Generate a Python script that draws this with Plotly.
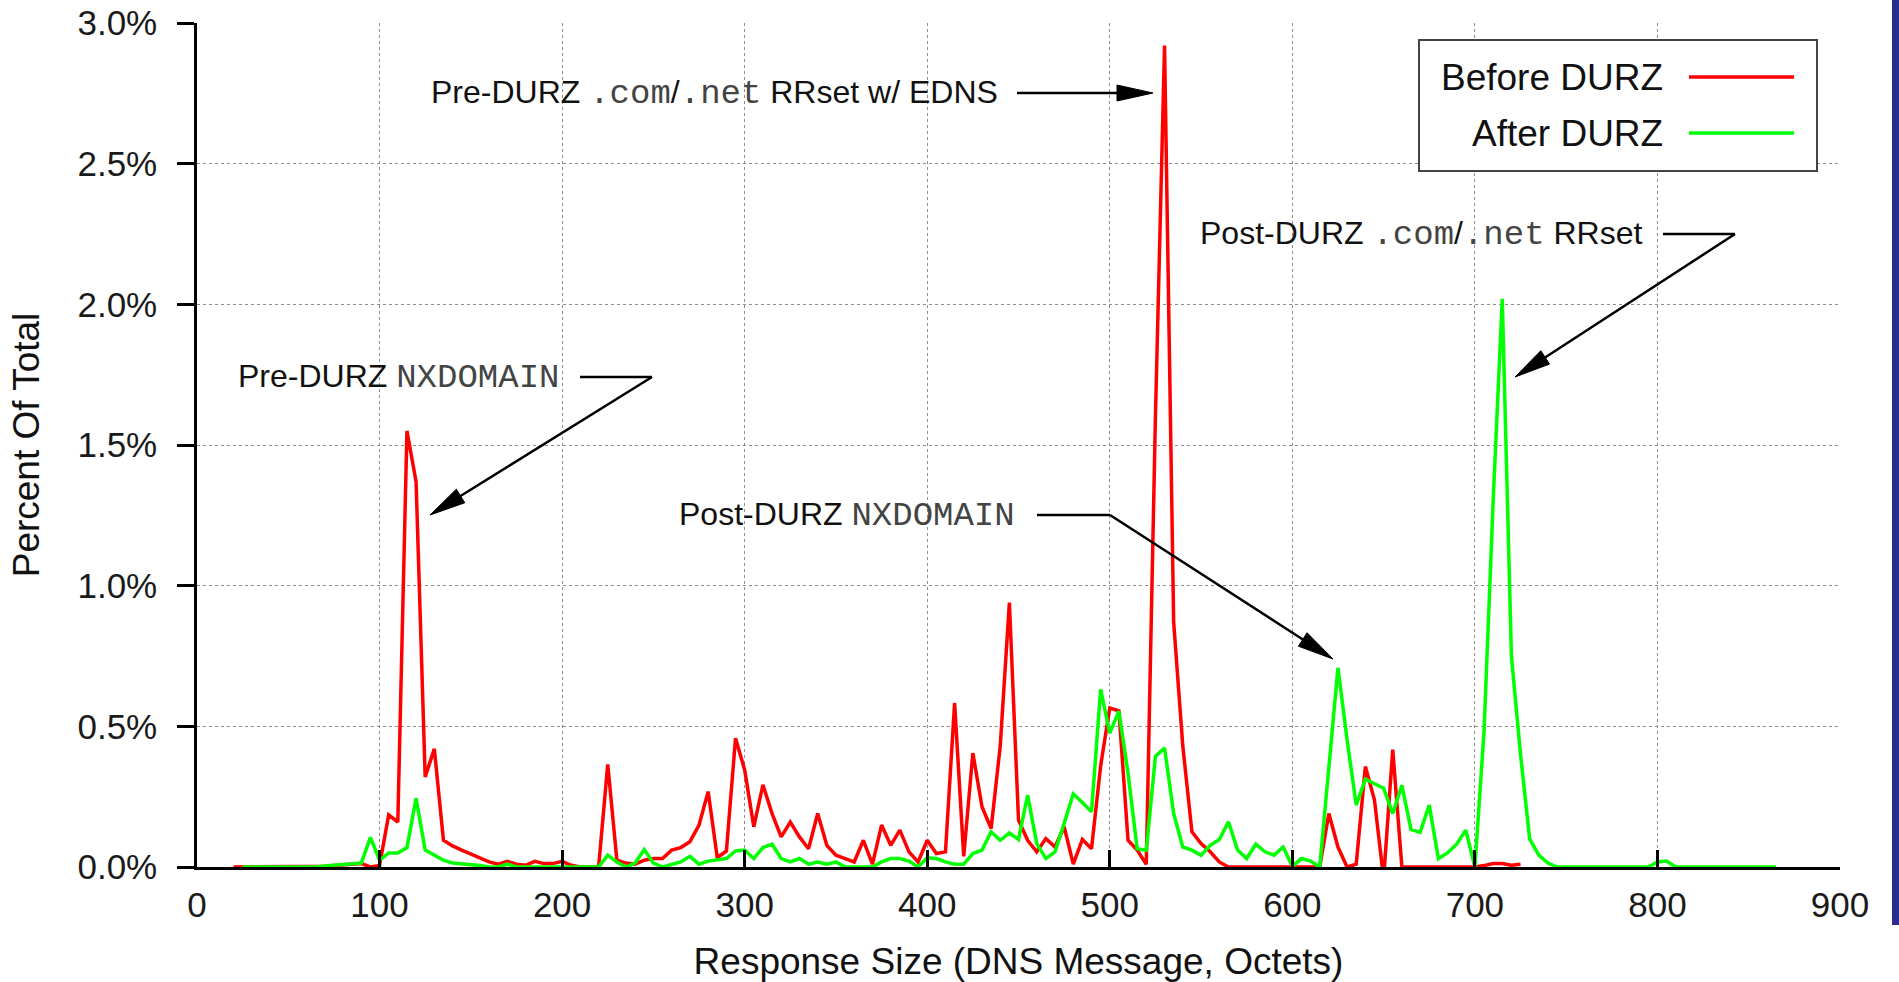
import math
import plotly.graph_objects as go

# ---------------- data ----------------
octets = list(range(20, 870, 5))  # response size bins (octets)

before_durz = [
    0, 0, 0, 0, 0, 0, 0, 0, 0, 0,
    0.003, 0.005, 0.008, 0.01, 0.012, 0.0, 0.005, 0.185, 0.16, 1.55,
    1.37, 0.32, 0.42, 0.095, 0.075, 0.06, 0.045, 0.03, 0.018, 0.01,
    0.02, 0.01, 0.006, 0.02, 0.012, 0.012, 0.02, 0.006, 0, 0,
    0, 0.365, 0.024, 0.014, 0.01, 0.024, 0.03, 0.03, 0.06, 0.069,
    0.09, 0.149, 0.268, 0.033, 0.057, 0.458, 0.345, 0.143, 0.292, 0.19,
    0.107, 0.16, 0.107, 0.065, 0.19, 0.077, 0.042, 0.03, 0.018, 0.095,
    0.01, 0.149, 0.077, 0.131, 0.054, 0.018, 0.095, 0.048, 0.054, 0.583,
    0.038, 0.405, 0.214, 0.137, 0.43, 0.94, 0.167, 0.095, 0.054, 0.101,
    0.071, 0.143, 0.01, 0.098, 0.065, 0.36, 0.565, 0.555, 0.095, 0.06,
    0.01, 1.6, 2.92, 0.87, 0.43, 0.125, 0.083, 0.054, 0.018, 0,
    0, 0, 0, 0, 0, 0, 0, 0, 0, 0,
    0.19, 0.071, 0, 0.01, 0.357, 0.238, -0.042, 0.417, 0, 0,
    0, 0, 0, 0, 0, 0, 0, 0.005, 0.012, 0.012,
    0.006, 0.01, None, None, None, None, None, None, None, None,
    None, None, None, None, None, None, None, None, None, None,
    None, None, None, None, None, None, None, None, None, None,
]

after_durz = [
    None, 0, 0, 0, 0, 0, 0, 0, 0, 0,
    0.004, 0.006, 0.008, 0.01, 0.014, 0.105, 0.024, 0.05, 0.05, 0.069,
    0.244, 0.06, 0.042, 0.024, 0.014, 0.012, 0.01, 0.005, 0, 0,
    0.01, 0, 0, 0, 0, 0, 0, 0, 0, 0,
    0, 0.042, 0.018, 0, 0.014, 0.062, 0.014, 0, 0.01, 0.018,
    0.038, 0.01, 0.021, 0.024, 0.03, 0.057, 0.06, 0.03, 0.069, 0.081,
    0.03, 0.018, 0.03, 0.01, 0.018, 0.01, 0.018, 0, 0, 0,
    0, 0.018, 0.03, 0.03, 0.021, 0, 0.033, 0.03, 0.018, 0.01,
    0.01, 0.048, 0.06, 0.125, 0.095, 0.121, 0.098, 0.256, 0.083, 0.03,
    0.054, 0.155, 0.26, 0.229, 0.196, 0.631, 0.476, 0.554, 0.333, 0.065,
    0.06, 0.393, 0.423, 0.19, 0.071, 0.06, 0.042, 0.077, 0.098, 0.161,
    0.06, 0.03, 0.081, 0.054, 0.042, 0.071, 0.002, 0.03, 0.021, 0,
    0.35, 0.708, 0.452, 0.22, 0.312, 0.295, 0.28, 0.19, 0.29, 0.134,
    0.123, 0.22, 0.03, 0.05, 0.081, 0.131, 0, 0.48, 1.3, 2.02,
    0.75, 0.40, 0.10, 0.042, 0.014, 0, 0, 0, 0, 0,
    0, 0, 0, 0, 0, 0, 0.018, 0.021, 0, 0,
    0, 0, 0, 0, 0, 0, 0, 0, 0, 0,
]

x_ticks = [0, 100, 200, 300, 400, 500, 600, 700, 800, 900]
y_ticks = [0.0, 0.5, 1.0, 1.5, 2.0, 2.5, 3.0]
y_ticktext = ["0.0%", "0.5%", "1.0%", "1.5%", "2.0%", "2.5%", "3.0%"]

# ---------------- geometry ----------------
W, H = 1899, 982
L, R, T, B = 197, 59, 23, 115
PW, PH = W - L - R, H - T - B
XMAX, YMAX = 900, 3.0


def dx(X):
    return (X - L) / PW * XMAX


def dy(Y):
    return (T + PH - Y) / PH * YMAX


SANS = "'Liberation Sans', Arial, Helvetica, sans-serif"
MONO = "'Liberation Mono', 'Courier New', monospace"


def mono(s, size=34):
    return f"<span style=\"font-family:{MONO};font-size:{size}px;color:#444\">{s}</span>"


fig = go.Figure()
fig.add_trace(go.Scatter(x=octets, y=before_durz, mode="lines", name="Before DURZ",
                         line=dict(color="#ff0000", width=3.5)))
fig.add_trace(go.Scatter(x=octets, y=after_durz, mode="lines", name="After DURZ",
                         line=dict(color="#00ff00", width=3.5)))

shapes = []
annotations = []


def seg(X0, Y0, X1, Y1):
    shapes.append(dict(type="line", xref="x", yref="y", x0=dx(X0), y0=dy(Y0), x1=dx(X1), y1=dy(Y1),
                       line=dict(color="black", width=2.5), layer="above"))


def arrow(X0, Y0, X1, Y1, hl=36, hw=8):
    vx, vy = X1 - X0, Y1 - Y0
    n = math.hypot(vx, vy)
    ux, uy = vx / n, vy / n
    bx, by = X1 - ux * hl, Y1 - uy * hl
    px, py = -uy, ux
    seg(X0, Y0, bx + ux * 2, by + uy * 2)
    p1 = (bx + px * hw, by + py * hw)
    p2 = (bx - px * hw, by - py * hw)
    path = (f"M {dx(X1)},{dy(Y1)} L {dx(p1[0])},{dy(p1[1])} "
            f"L {dx(p2[0])},{dy(p2[1])} Z")
    shapes.append(dict(type="path", xref="x", yref="y", path=path, fillcolor="black",
                       line=dict(color="black", width=1), layer="above"))


def label(X, Y, text):
    annotations.append(dict(x=dx(X), y=dy(Y), xref="x", yref="y", text=text, showarrow=False,
                            xanchor="right", yanchor="middle",
                            font=dict(family=SANS, size=32, color="#111")))


# annotations
label(1000, 93, "Pre-DURZ " + mono(".com") + "/" + mono(".net") + " RRset w/ EDNS")
arrow(1017, 93, 1153, 93)

label(1645, 234, "Post-DURZ " + mono(".com") + "/" + mono(".net") + " RRset")
seg(1663, 234, 1735, 234)
arrow(1735, 234, 1515, 377)

label(561, 377, "Pre-DURZ " + mono("NXDOMAIN"))
seg(580, 377, 652, 377)
arrow(652, 377, 430, 515)

label(1017, 515, "Post-DURZ " + mono("NXDOMAIN"))
seg(1037, 515, 1110, 515)
arrow(1110, 515, 1333, 659)

# custom legend (text left, sample right, like the original)
shapes.append(dict(type="rect", xref="x", yref="y", x0=dx(1419), x1=dx(1817), y0=dy(171), y1=dy(40),
                   line=dict(color="#444", width=2), fillcolor="white", layer="above"))
for name, col, Y in [("Before DURZ", "#ff0000", 77), ("After DURZ", "#00ff00", 133)]:
    shapes.append(dict(type="line", xref="x", yref="y", x0=dx(1689), x1=dx(1794), y0=dy(Y), y1=dy(Y),
                       line=dict(color=col, width=3.5), layer="above"))
    annotations.append(dict(x=dx(1665), y=dy(Y), xref="x", yref="y", text=name, showarrow=False,
                            xanchor="right", yanchor="middle",
                            font=dict(family=SANS, size=37, color="#111")))

# blue frame bar at right edge of slide
shapes.append(dict(type="rect", xref="paper", yref="paper",
                   x0=(1892 - L) / PW, x1=(1899 - L) / PW,
                   y0=(T + PH - 925) / PH, y1=(T + PH) / PH,
                   line=dict(width=0), fillcolor="#2b2d8e", layer="above"))

axis_common = dict(showline=True, linecolor="black", linewidth=2.5, tickcolor="black", tickwidth=2.5,
                   ticklen=17, showgrid=True, gridcolor="#8c8c8c", griddash="dot", gridwidth=1.3,
                   zeroline=False, automargin=False,
                   tickfont=dict(family=SANS, size=35, color="#1a1a1a"))

fig.update_layout(
    template="none",
    width=W, height=H,
    margin=dict(l=L, r=R, t=T, b=B, autoexpand=False),
    paper_bgcolor="white", plot_bgcolor="white",
    showlegend=False,
    font=dict(family=SANS, color="#111"),
    xaxis=dict(range=[0, XMAX], tickvals=x_ticks, ticks="inside", ticklabelstandoff=5,
               title=dict(text="Response Size (DNS Message, Octets)", standoff=30,
                          font=dict(family=SANS, size=37, color="#111")),
               **axis_common),
    yaxis=dict(range=[0, YMAX], tickvals=y_ticks, ticktext=y_ticktext, ticks="outside",
               ticklabelstandoff=13,
               title=dict(text="Percent Of Total", standoff=27,
                          font=dict(family=SANS, size=37, color="#111")),
               **axis_common),
    shapes=shapes,
    annotations=annotations,
)

fig.write_html("out.html", config={"displayModeBar": False},
               post_script="document.body.style.margin='0';document.body.style.overflow='hidden';")
